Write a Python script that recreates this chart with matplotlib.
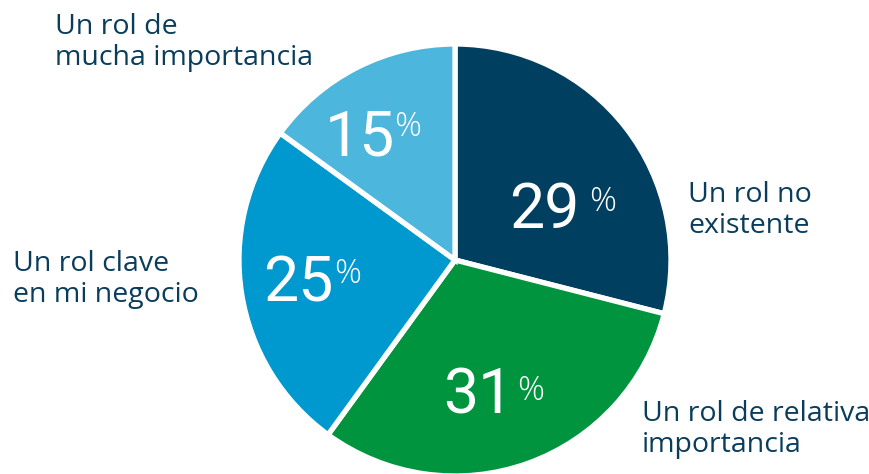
import matplotlib.pyplot as plt

# datos del gráfico
valores = [29, 31, 25, 15]
etiquetas = ['Un rol no\nexistente', 'Un rol de relativa\nimportancia',
             'Un rol clave\nen mi negocio', 'Un rol de\nmucha importancia']
colores = ['#003F5F', '#00943F', '#0099CF', '#4DB6DC']

plt.rcParams['font.family'] = ['Open Sans', 'DejaVu Sans']

fig = plt.figure(figsize=(8.69, 4.74), dpi=100)
ax = fig.add_axes([0, 0, 1, 1])

# pastel (eje y invertido -> counterclock=True dibuja en sentido horario)
ax.pie(valores, colors=colores, startangle=-90, counterclock=True,
       center=(455, 260), radius=216, frame=True,
       wedgeprops=dict(edgecolor='white', linewidth=3.8))
ax.set_xlim(0, 869)
ax.set_ylim(474, 0)
ax.set_aspect('equal')
ax.axis('off')

# porcentajes dentro de cada sector
pos_num = [(579, 228), (513, 413), (334, 302), (395, 155)]
pos_pct = [(589, 211), (517, 400), (334, 283), (394, 136)]
for v, (x, y), (px, py) in zip(valores, pos_num, pos_pct):
    ax.text(x, y, str(v), color='white', fontsize=45,
            family=['Roboto', 'DejaVu Sans'], ha='right', va='baseline')
    ax.text(px, py, '%', color='white', fontsize=24, fontweight='light',
            family=['Open Sans', 'DejaVu Sans'], ha='left', va='baseline')

# etiquetas
pos_lab = [(688, 181), (642, 400), (13, 250), (55, 13)]
for t, (x, y) in zip(etiquetas, pos_lab):
    ax.text(x, y, t, color='#0A3D5C', fontsize=20.5, ha='left', va='top',
            linespacing=1.12)

plt.savefig('out.png', dpi=100)
